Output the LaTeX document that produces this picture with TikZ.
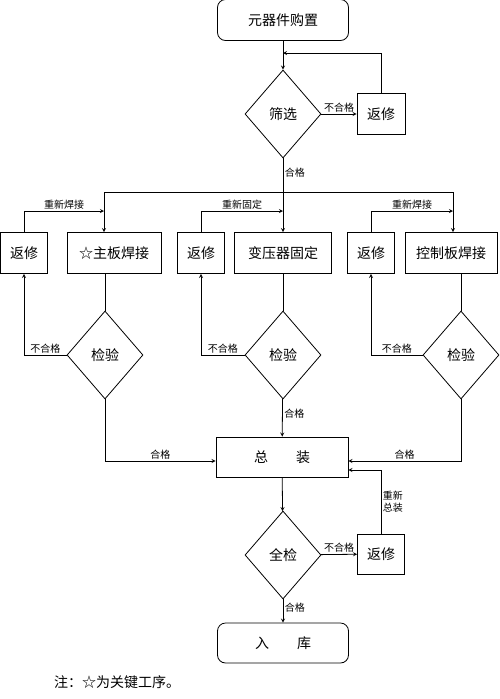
\documentclass[tikz,border=0pt]{standalone}
\usepackage{fontspec}
\setmainfont{Noto Sans CJK SC}
\usetikzlibrary{shapes.geometric}

\begin{document}
\begin{tikzpicture}[x=1pt,y=-1pt,->,>=stealth,line width=0.8pt,
  box/.style={draw,rectangle,inner sep=0pt,minimum height=41pt,font=\fontsize{14}{16}\selectfont},
  rbox/.style={box,rounded corners=8pt,minimum width=131pt},
  dia/.style={draw,diamond,inner sep=0pt,minimum width=76pt,minimum height=88pt,font=\fontsize{14}{16}\selectfont},
  lbl/.style={font=\fontsize{10}{12}\selectfont,inner sep=1.5pt}]
\useasboundingbox (0,0) rectangle (500,699);
% top part
\node[rbox] (buy) at (283,20) {元器件购置};
\node[dia] (screen) at (283,114) {筛选};
\node[box,minimum width=48pt] (fix0) at (381,114) {返修};
\coordinate (back0) at (283,53);
\draw (buy) -- (screen);
\draw (screen) -- node[above,lbl]{不合格} (fix0);
\draw (fix0.north) |- (back0);
% three branches
\node[box,minimum width=47pt] (fix1) at (24,253) {返修};
\node[box,minimum width=94pt] (main) at (114,253) {☆主板焊接};
\node[box,minimum width=47pt] (fix2) at (201,253) {返修};
\node[box,minimum width=97pt] (trans) at (283,253) {变压器固定};
\node[box,minimum width=47pt] (fix3) at (371,253) {返修};
\node[box,minimum width=92pt] (ctrl) at (451,253) {控制板焊接};
\node[dia] (chk1) at (105,355) {检验};
\node[dia] (chk2) at (283,355) {检验};
\node[dia] (chk3) at (461,355) {检验};
\coordinate (busL) at (104,192);
\coordinate (busR) at (453,192);
\coordinate (in1) at (104,211);
\coordinate (in2) at (283,211);
\coordinate (in3) at (453,211);
\draw[-] (busL) -- (busR);
\draw (busL) -- (busL |- main.north);
\draw (busR) -- (busR |- ctrl.north);
\draw (screen) -- node[pos=0.2,right,lbl]{合格} (trans);
\draw (fix1.north) |- node[pos=0.75,above,lbl]{重新焊接} (in1);
\draw (fix2.north) |- node[pos=0.75,above,lbl]{重新固定} (in2);
\draw (fix3.north) |- node[pos=0.75,above,lbl]{重新焊接} (in3);
\draw[-] (chk1.north |- main.south) -- (chk1.north);
\draw[-] (trans) -- (chk2);
\draw[-] (chk3.north |- ctrl.south) -- (chk3.north);
\draw (chk1.west) -| node[pos=0.25,above,lbl]{不合格} (fix1.south);
\draw (chk2.west) -| node[pos=0.25,above,lbl]{不合格} (fix2.south);
\draw (chk3.west) -| node[pos=0.25,above,lbl]{不合格} (fix3.south);
% assembly
\node[box,minimum width=132pt,minimum height=40pt] (asm) at (282,457) {总\hspace{2em}装};
\draw (chk1.south) |- node[pos=0.75,above,lbl]{合格} ([yshift=-4pt]asm.west);
\draw (chk3.south) |- node[pos=0.75,above,lbl]{合格} ([yshift=-4pt]asm.east);
\draw (chk2) -- node[pos=0.4,right,lbl]{合格} (asm);
\node[dia] (final) at (283,555) {全检};
\node[box,minimum width=47pt,minimum height=40pt] (fix4) at (381,554) {返修};
\draw (asm) -- (final);
\draw (final) -- node[above,lbl]{不合格} (fix4);
\draw (fix4.north) |- node[pos=0.25,right,lbl,align=left]{重新\\总装} ([yshift=-13pt]asm.east);
\node[rbox,minimum height=40pt] (store) at (283,643) {入\hspace{2em}库};
\draw (final) -- node[pos=0.35,right,lbl]{合格} (store);
\node[font=\fontsize{14}{16}\selectfont] (note) at (117,682) {注：☆为关键工序。};
\end{tikzpicture}
\end{document}
